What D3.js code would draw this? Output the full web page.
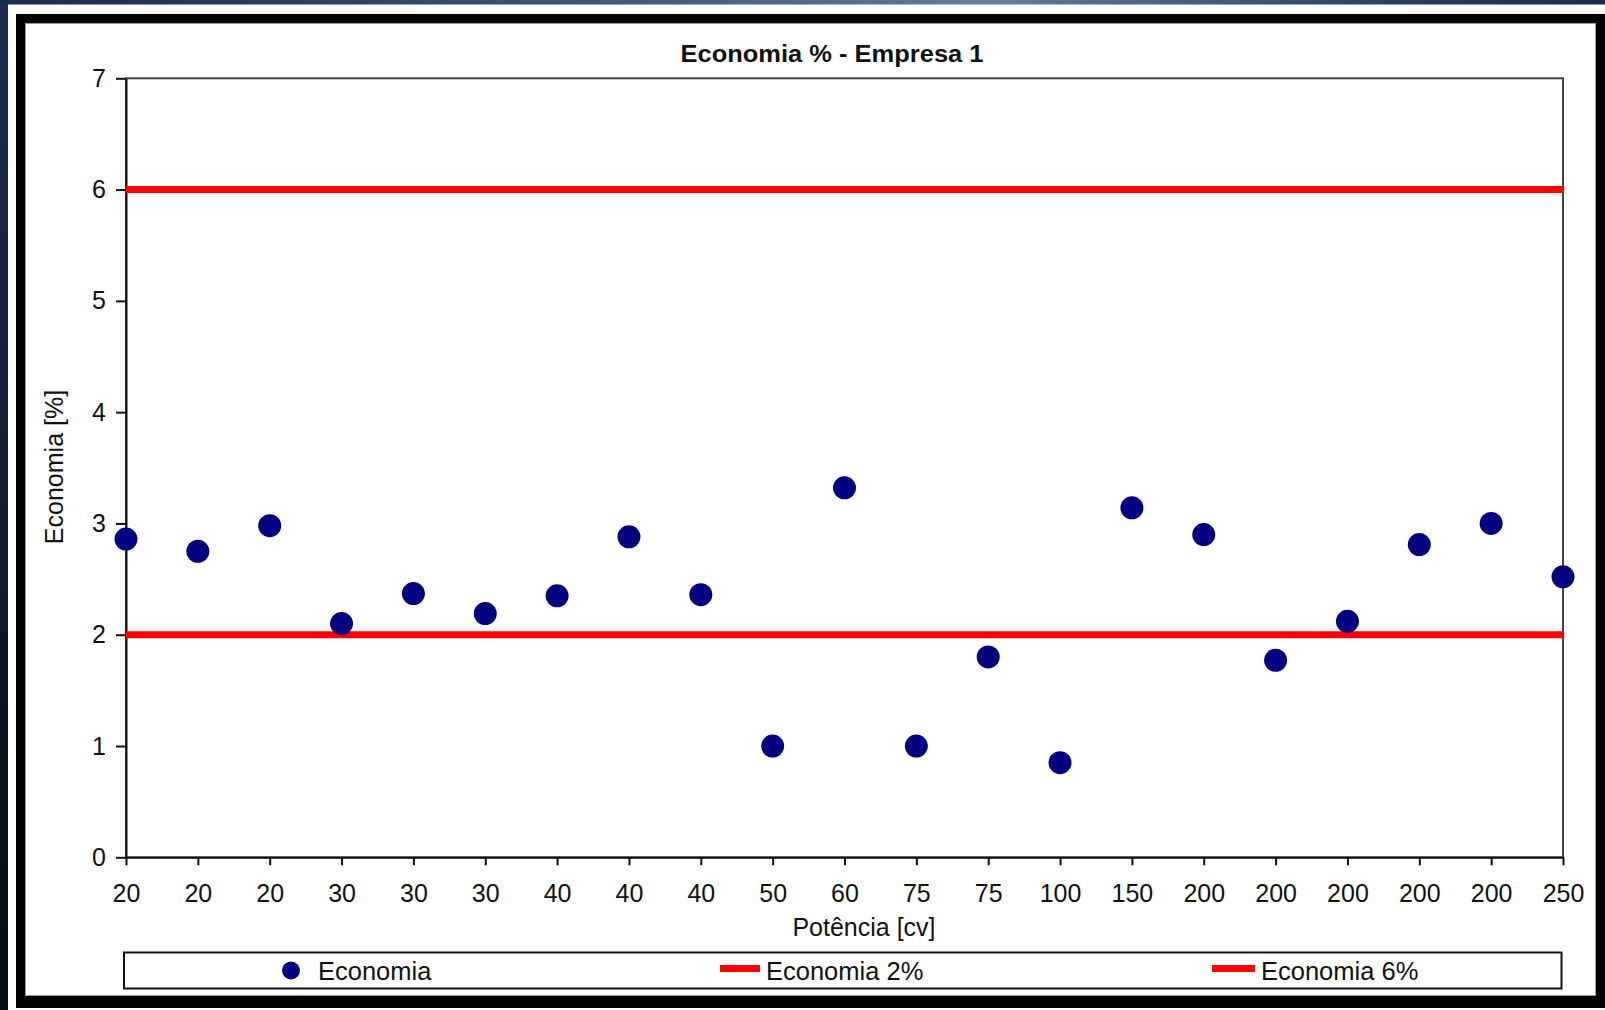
<!DOCTYPE html>
<html>
<head>
<meta charset="utf-8">
<script src="https://cdn.jsdelivr.net/npm/d3@7"></script>
<style>
  html, body { margin: 0; padding: 0; background: #0b1426; }
  svg { display: block; }
  text { font-family: "Liberation Sans", Arial, sans-serif; fill: #111; }
</style>
</head>
<body>
<svg id="chart" width="1605" height="1010"></svg>
<script>
// Potência (cv) of each motor, in the order measured
const potencia = ["20","20","20","30","30","30","40","40","40","50","60","75","75","100","150","200","200","200","200","200","250"];
// Economia (%) measured for each motor
const economia = [2.86,2.75,2.98,2.10,2.37,2.19,2.35,2.88,2.36,1.00,3.32,1.00,1.80,0.85,3.14,2.90,1.77,2.12,2.81,3.00,2.52];
// Reference levels
const limites = [
  { nome: "Economia 2%", valor: 2 },
  { nome: "Economia 6%", valor: 6 }
];
const yTicks = [0,1,2,3,4,5,6,7];

const W = 1605, H = 1010;
const plot = { left: 126, right: 1563, top: 78.3, bottom: 857.3 };

const svg = d3.select("#chart");
const defs = svg.append("defs");

// dark slide background
const gV = defs.append("linearGradient").attr("id","bgV").attr("x1",0).attr("y1",0).attr("x2",0).attr("y2",1);
gV.append("stop").attr("offset","0%").attr("stop-color","#1b2d52");
gV.append("stop").attr("offset","100%").attr("stop-color","#070b12");
const gH = defs.append("linearGradient").attr("id","bgH").attr("x1",0).attr("y1",0).attr("x2",1).attr("y2",0);
gH.append("stop").attr("offset","0%").attr("stop-color","#1a2a4c");
gH.append("stop").attr("offset","35%").attr("stop-color","#3b5276");
gH.append("stop").attr("offset","62%").attr("stop-color","#647d9c");
gH.append("stop").attr("offset","85%").attr("stop-color","#2c4266");
gH.append("stop").attr("offset","100%").attr("stop-color","#182a4e");

svg.append("rect").attr("width",W).attr("height",H).attr("fill","url(#bgV)");
svg.append("rect").attr("width",W).attr("height",5).attr("fill","url(#bgH)");

// white sheet
svg.append("rect").attr("x",8).attr("y",4.5).attr("width",W-8).attr("height",H-4.5).attr("fill","#ffffff");

// thick black frame
const frame = svg.append("g");
frame.append("rect").attr("x",16).attr("y",14).attr("width",W-16).attr("height",9).attr("fill","#000");
frame.append("rect").attr("x",16).attr("y",996).attr("width",W-16).attr("height",12).attr("fill","#000");
frame.append("rect").attr("x",16).attr("y",14).attr("width",9).attr("height",994).attr("fill","#000");
frame.append("rect").attr("x",1596).attr("y",14).attr("width",9).attr("height",994).attr("fill","#000");
frame.append("rect").attr("x",25.5).attr("y",23.5).attr("width",1570).attr("height",972)
  .attr("fill","none").attr("stroke","#9a9a9a").attr("stroke-width",1);

// scales
const x = d3.scalePoint().domain(d3.range(potencia.length)).range([plot.left, plot.right]).padding(0);
const y = d3.scaleLinear().domain([0,7]).range([plot.bottom, plot.top]);

// plot area outline
svg.append("rect")
  .attr("x",plot.left).attr("y",plot.top)
  .attr("width",plot.right-plot.left).attr("height",plot.bottom-plot.top)
  .attr("fill","none").attr("stroke","#444").attr("stroke-width",2);

// axes
const xAxis = d3.axisBottom(x).tickFormat(i => potencia[i]).tickSizeInner(8).tickSizeOuter(0).tickPadding(19);
const gx = svg.append("g").attr("transform",`translate(0,${plot.bottom})`).call(xAxis);
gx.select(".domain").attr("stroke","#111").attr("stroke-width",2);
gx.selectAll(".tick line").attr("stroke","#111").attr("stroke-width",2);
gx.selectAll(".tick text").attr("font-size",25).attr("fill","#111").attr("dy","0.71em")
  .attr("font-family","'Liberation Sans', Arial, sans-serif");

const yAxis = d3.axisLeft(y).tickValues(yTicks).tickFormat(d3.format("d")).tickSizeInner(10).tickSizeOuter(0).tickPadding(10);
const gy = svg.append("g").attr("transform",`translate(${plot.left},0)`).call(yAxis);
gy.select(".domain").attr("stroke","#111").attr("stroke-width",2);
gy.selectAll(".tick line").attr("stroke","#111").attr("stroke-width",2);
gy.selectAll(".tick text").attr("font-size",25).attr("fill","#111")
  .attr("font-family","'Liberation Sans', Arial, sans-serif");

// reference lines
svg.append("g").selectAll("line").data(limites).join("line")
  .attr("x1",plot.left).attr("x2",plot.right)
  .attr("y1",d => y(d.valor)).attr("y2",d => y(d.valor))
  .attr("stroke","#ff0000").attr("stroke-width",7);

// points
svg.append("g").selectAll("circle").data(economia).join("circle")
  .attr("cx",(d,i) => x(i)).attr("cy",d => y(d))
  .attr("r",11.5).attr("fill","#000080");

// titles
svg.append("text").attr("x",832).attr("y",62).attr("text-anchor","middle")
  .attr("font-size",23).attr("font-weight","bold")
  .attr("textLength",303).attr("lengthAdjust","spacingAndGlyphs")
  .text("Economia % - Empresa 1");
svg.append("text").attr("x",864).attr("y",936).attr("text-anchor","middle")
  .attr("font-size",25).text("Potência [cv]");
svg.append("text").attr("transform","translate(63,467) rotate(-90)").attr("text-anchor","middle")
  .attr("font-size",25).text("Economia [%]");

// legend
const lg = svg.append("g");
lg.append("rect").attr("x",124).attr("y",952.5).attr("width",1437.5).attr("height",36)
  .attr("fill","#fff").attr("stroke","#111").attr("stroke-width",2);
lg.append("circle").attr("cx",291).attr("cy",970.5).attr("r",9).attr("fill","#000080");
lg.append("text").attr("x",318).attr("y",979.5).attr("font-size",25.5).text("Economia");
const lItems = [{x1:720, x2:760, tx:766}, {x1:1212, x2:1255, tx:1261}];
limites.forEach((d,i) => {
  lg.append("line").attr("x1",lItems[i].x1).attr("x2",lItems[i].x2).attr("y1",968.5).attr("y2",968.5)
    .attr("stroke","#ff0000").attr("stroke-width",7);
  lg.append("text").attr("x",lItems[i].tx).attr("y",979.5).attr("font-size",25.5).text(d.nome);
});
</script>
</body>
</html>
